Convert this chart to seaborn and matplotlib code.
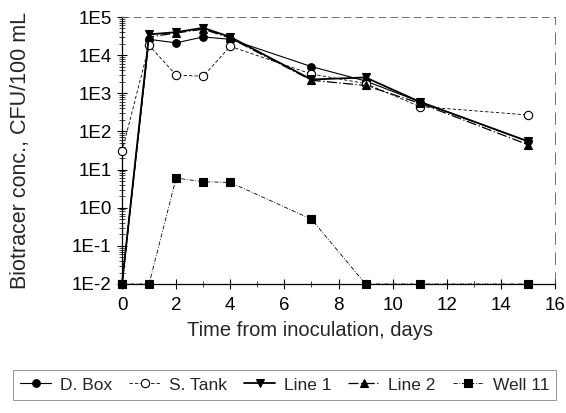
import matplotlib
matplotlib.use("Agg")
import matplotlib.pyplot as plt
import matplotlib.ticker as mticker
import seaborn as sns
import pandas as pd

days = [0, 1, 2, 3, 4, 7, 9, 11, 15]
d_box = [1e-2, 2.6e4, 2.1e4, 3.0e4, 2.6e4, 5.0e3, 2.1e3, 6.0e2, 55]
s_tank = [30, 1.8e4, 3.0e3, 2.8e3, 1.7e4, 3.2e3, 1.8e3, 4.5e2, 2.7e2]
line_1 = [1e-2, 3.5e4, 4.0e4, 5.2e4, 3.0e4, 2.3e3, 2.6e3, 6.0e2, 55]
line_2 = [1e-2, 3.0e4, 3.8e4, 4.8e4, 2.8e4, 2.2e3, 1.6e3, 5.5e2, 45]
well_days = [0, 1, 2, 3, 4, 7, 9, 11, 15]
well_11 = [1e-2, 1e-2, 6.0, 4.8, 4.6, 0.5, 1e-2, 1e-2, 1e-2]

series_names = ["D. Box", "S. Tank", "Line 1", "Line 2", "Well 11"]
ytick_vals = [1e-2, 1e-1, 1e0, 1e1, 1e2, 1e3, 1e4, 1e5]
ytick_labels = ["1E-2", "1E-1", "1E0", "1E1", "1E2", "1E3", "1E4", "1E5"]
xtick_vals = [0, 2, 4, 6, 8, 10, 12, 14, 16]

sns.set_style("ticks")
plt.rcParams["font.family"] = ["Liberation Sans", "DejaVu Sans"]

fig = plt.figure(figsize=(5.66, 4.13), dpi=100)
ax = fig.add_axes([122 / 566, 1 - 284 / 413, (555 - 122) / 566, (284 - 17) / 413])

styles = {
    "D. Box": dict(marker="o", markerfacecolor="black", linestyle="-", linewidth=0.8, markersize=5.5),
    "S. Tank": dict(marker="o", markerfacecolor="white", linestyle=(0, (4, 2.5)), linewidth=0.6, markersize=6),
    "Line 1": dict(marker="v", markerfacecolor="black", linestyle="-", linewidth=1.3, markersize=5.5),
    "Line 2": dict(marker="^", markerfacecolor="black", linestyle=(0, (8, 2, 1, 2)), linewidth=0.9, markersize=5.5),
    "Well 11": dict(marker="s", markerfacecolor="black", linestyle=(0, (5, 2, 1, 2)), linewidth=0.6, markersize=5.5),
}
data = {
    "D. Box": (days, d_box),
    "S. Tank": (days, s_tank),
    "Line 1": (days, line_1),
    "Line 2": (days, line_2),
    "Well 11": (well_days, well_11),
}

for name in series_names:
    xs, ys = data[name]
    df = pd.DataFrame({"day": xs, "conc": ys})
    sns.lineplot(data=df, x="day", y="conc", ax=ax, color="black",
                 markeredgecolor="black", markeredgewidth=0.8,
                 label=name, clip_on=False, zorder=3, **styles[name])

ax.set_yscale("log")
ax.set_ylim(1e-2, 1e5)
ax.set_xlim(0, 16)
ax.set_yticks(ytick_vals)
ax.set_yticklabels(ytick_labels)
ax.yaxis.set_minor_locator(mticker.LogLocator(base=10, subs=range(2, 10), numticks=20))
ax.yaxis.set_minor_formatter(mticker.NullFormatter())
ax.set_xticks(xtick_vals)
ax.set_xticklabels([str(v) for v in xtick_vals])
ax.xaxis.set_minor_locator(mticker.MultipleLocator(1))

ax.tick_params(axis="both", which="major", direction="inout", length=7, width=0.8,
               labelsize=13.5, colors="black", pad=4)
ax.tick_params(axis="both", which="minor", direction="inout", length=4, width=0.6)
ax.tick_params(axis="x", which="major", pad=6)

for side in ["left", "bottom"]:
    ax.spines[side].set_linewidth(0.9)
    ax.spines[side].set_color("black")
ax.spines["top"].set_visible(True)
ax.spines["right"].set_visible(True)
ax.spines["top"].set_linestyle((0, (8, 6)))
ax.spines["top"].set_linewidth(0.6)
ax.spines["top"].set_color("#555555")
ax.spines["right"].set_linestyle((0, (14, 10)))
ax.spines["right"].set_linewidth(0.6)
ax.spines["right"].set_color("#555555")

ax.set_xlabel("Time from inoculation, days", fontsize=14.5)
ax.set_ylabel("Biotracer conc., CFU/100 mL", fontsize=15.5)
ax.xaxis.set_label_coords((310 - 122) / 433, (284 - 331) / 267)
ax.yaxis.set_label_coords((21 - 122) / 433, (284 - 150) / 267)
ax.xaxis.label.set_va("center")
ax.yaxis.label.set_va("center")

ax.get_legend().remove()
handles, labels = ax.get_legend_handles_labels()
leg = fig.legend(handles, labels, loc="center", ncol=5, mode="expand",
                 bbox_to_anchor=(13 / 566, 1 - 403 / 413, (556 - 13) / 566, 36 / 413),
                 frameon=True, fancybox=False, fontsize=12.5, handlelength=1.8,
                 handletextpad=0.5, columnspacing=0.8, borderaxespad=0)
leg.get_frame().set_edgecolor("#666666")
leg.get_frame().set_linewidth(0.6)

fig.savefig("out.png", dpi=100)
